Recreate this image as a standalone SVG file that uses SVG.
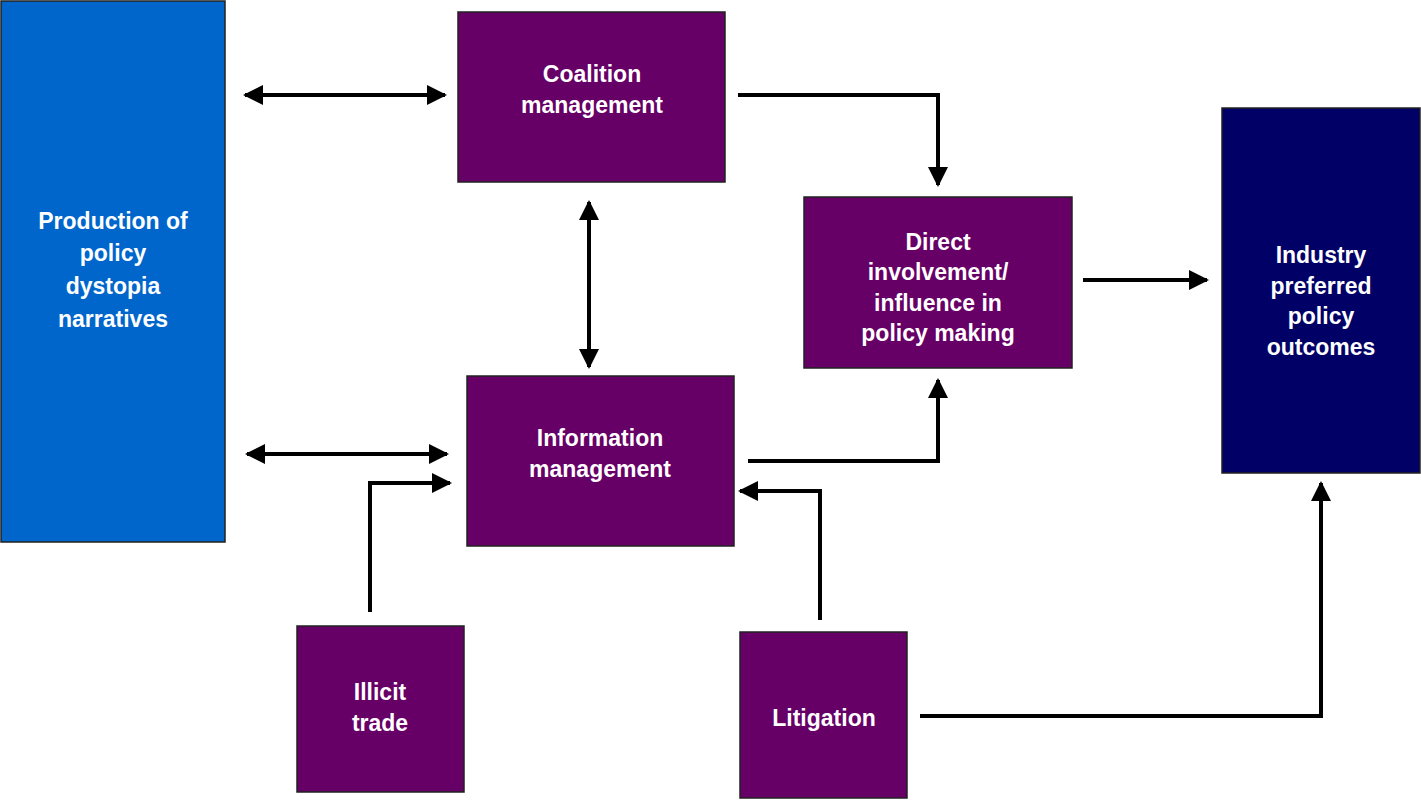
<svg xmlns="http://www.w3.org/2000/svg" width="1421" height="800" viewBox="0 0 1421 800">
<style>
.b{stroke:#222;stroke-width:1.5}
.p{fill:#660066}
t,text{font-family:"Liberation Sans",Arial,sans-serif;font-weight:bold;font-size:23px;fill:#fff;text-anchor:middle}
.c{fill:none;stroke:#000;stroke-width:4}
</style>
<defs>
<marker id="a" viewBox="0 0 10 10" refX="9" refY="5" markerWidth="7.5" markerHeight="5" markerUnits="strokeWidth" orient="auto-start-reverse"><path d="M0,0L10,5L0,10z" fill="#000"/></marker>
</defs>
<rect width="1421" height="800" fill="#fff"/>
<g id="production"><rect class="b" x="1" y="1" width="224" height="541" fill="#0066cc"/><text x="113" y="229">Production of</text><text x="113" y="261">policy</text><text x="113" y="294">dystopia</text><text x="113" y="327">narratives</text></g>
<g id="coalition"><rect class="b p" x="458" y="12" width="267" height="170"/><text x="592" y="82">Coalition</text><text x="592" y="113">management</text></g>
<g id="information"><rect class="b p" x="467" y="376" width="267" height="170"/><text x="600" y="446">Information</text><text x="600" y="477">management</text></g>
<g id="direct"><rect class="b p" x="804" y="197" width="268" height="171"/><text x="938" y="250">Direct</text><text x="938" y="280">involvement/</text><text x="938" y="311">influence in</text><text x="938" y="341">policy making</text></g>
<g id="industry"><rect class="b" x="1222" y="108" width="198" height="365" fill="#000066"/><text x="1321" y="263">Industry</text><text x="1321" y="294">preferred</text><text x="1321" y="324">policy</text><text x="1321" y="355">outcomes</text></g>
<g id="illicit"><rect class="b p" x="297" y="626" width="167" height="166"/><text x="380" y="700">Illicit</text><text x="380" y="731">trade</text></g>
<g id="litigation"><rect class="b p" x="740" y="632" width="167" height="166"/><text x="824" y="726">Litigation</text></g>
<g id="connectors">
<path class="c" d="M245,95H445" marker-start="url(#a)" marker-end="url(#a)"/>
<path class="c" d="M247,454H447" marker-start="url(#a)" marker-end="url(#a)"/>
<path class="c" d="M589,202V367" marker-start="url(#a)" marker-end="url(#a)"/>
<path class="c" d="M738,95H938V185" marker-end="url(#a)"/>
<path class="c" d="M748,461H938V380" marker-end="url(#a)"/>
<path class="c" d="M1083,280H1207" marker-end="url(#a)"/>
<path class="c" d="M370,612V483H450" marker-end="url(#a)"/>
<path class="c" d="M820,620V491H740" marker-end="url(#a)"/>
<path class="c" d="M920,716H1321V483" marker-end="url(#a)"/>
</g>
</svg>
